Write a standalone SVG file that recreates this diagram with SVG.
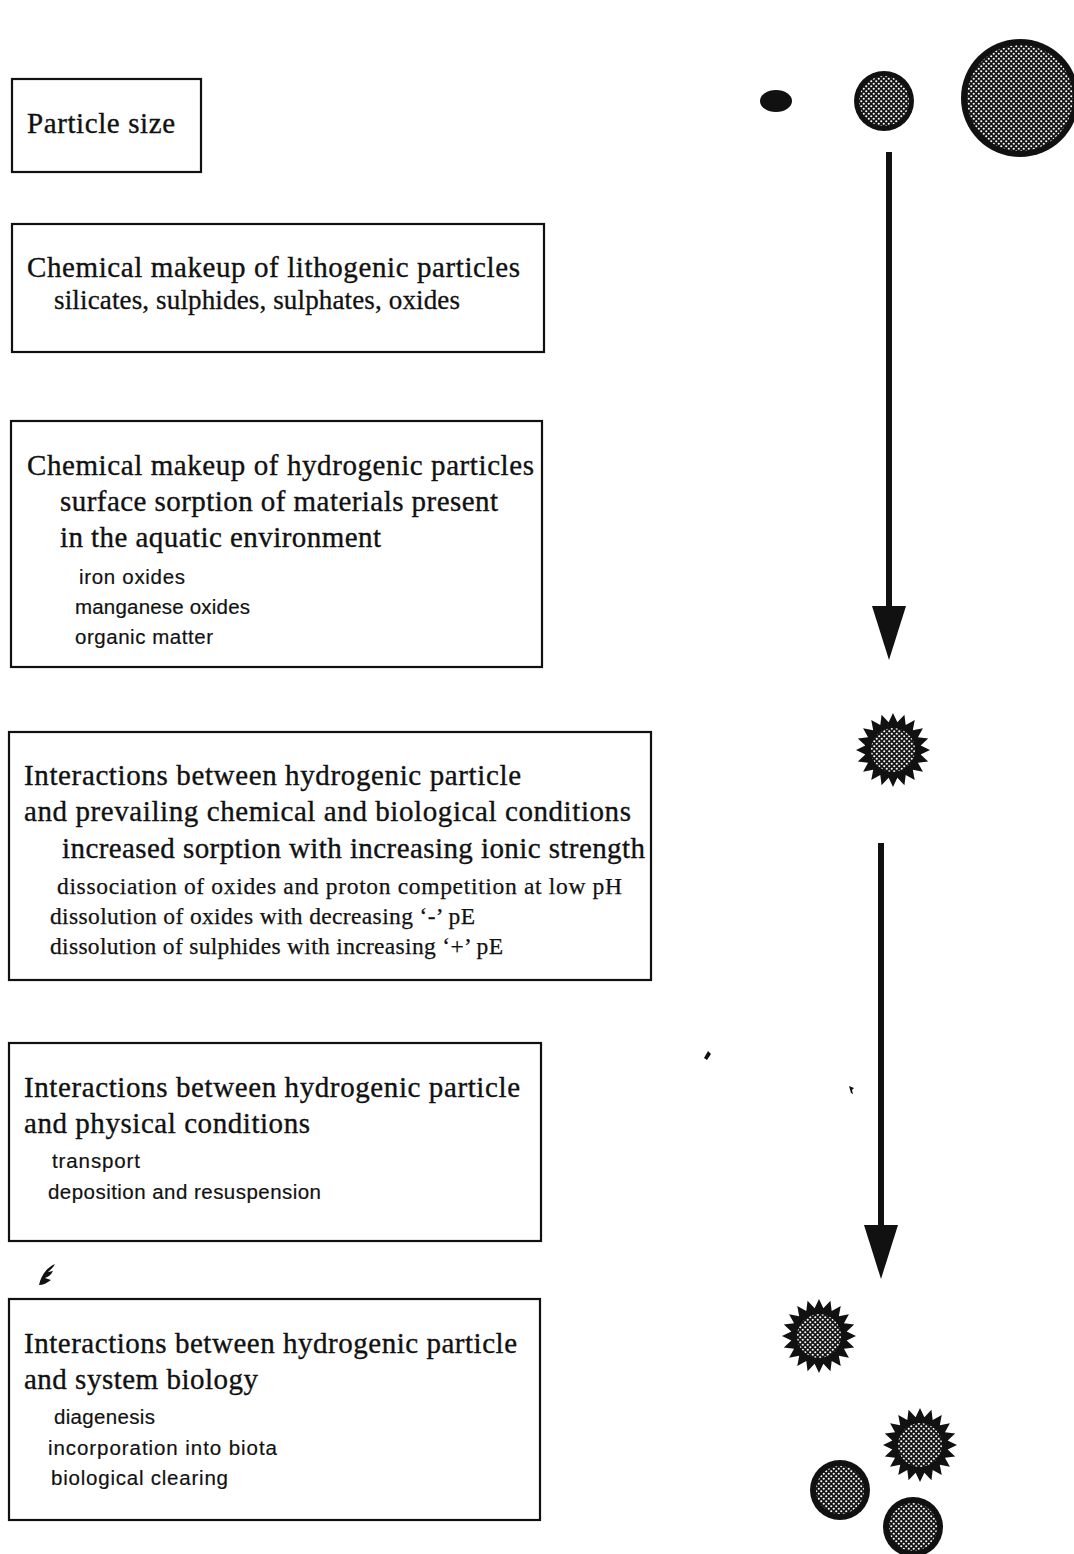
<svg xmlns="http://www.w3.org/2000/svg" width="1074" height="1554" viewBox="0 0 1074 1554">
  <style>
    .box { fill: #fff; stroke: #111; stroke-width: 2.2; }
    .h { font-family: "Liberation Serif", "Times New Roman", serif; font-size: 29px; fill: #111; stroke: #111; stroke-width: 0.35; }
    .m { font-family: "Liberation Serif", "Times New Roman", serif; font-size: 27px; fill: #111; stroke: #111; stroke-width: 0.3; }
    .s { font-family: "Liberation Serif", "Times New Roman", serif; font-size: 23.5px; fill: #111; stroke: #111; stroke-width: 0.25; }
    .ss { font-family: "Liberation Sans", Arial, sans-serif; font-size: 20.5px; fill: #111; stroke: #111; stroke-width: 0.2; }
    .shaft { stroke: #111; stroke-width: 6; fill: none; }
    .ink { fill: #111; }
  </style>
  <defs>
    <!-- halftone screen used inside the particles -->
    <pattern id="dots" width="5" height="5" patternUnits="userSpaceOnUse">
      <rect width="5" height="5" fill="#151515"/>
      <circle cx="1.25" cy="1.25" r="1.05" fill="#fff"/>
      <circle cx="3.75" cy="3.75" r="1.05" fill="#fff"/>
    </pattern>
    <marker id="head" viewBox="0 0 54 34" markerWidth="54" markerHeight="34" refX="1" refY="17" orient="auto" markerUnits="userSpaceOnUse">
      <path d="M0,0 L54,17 L0,34 Z" fill="#111"/>
    </marker>
    <!-- 20-point star outline for coated (hydrogenic) particles -->
    <polygon id="star" points="37,0 27.66,4.38 35.19,11.43 24.95,12.71 29.93,21.75 19.8,19.8 21.75,29.93 12.71,24.95 11.43,35.19 4.38,27.66 0,37 -4.38,27.66 -11.43,35.19 -12.71,24.95 -21.75,29.93 -19.8,19.8 -29.93,21.75 -24.95,12.71 -35.19,11.43 -27.66,4.38 -37,0 -27.66,-4.38 -35.19,-11.43 -24.95,-12.71 -29.93,-21.75 -19.8,-19.8 -21.75,-29.93 -12.71,-24.95 -11.43,-35.19 -4.38,-27.66 0,-37 4.38,-27.66 11.43,-35.19 12.71,-24.95 21.75,-29.93 19.8,-19.8 29.93,-21.75 24.95,-12.71 35.19,-11.43 27.66,-4.38"/>
    <g id="starParticle">
      <use href="#star" class="ink"/>
      <circle r="22" fill="url(#dots)"/>
    </g>
  </defs>

  <rect width="1074" height="1554" fill="#fff"/>

  <!-- text boxes -->
  <g id="particle-size">
    <rect class="box" x="12" y="79" width="189" height="93"/>
    <text class="h" x="27" y="133" textLength="148" lengthAdjust="spacing">Particle size</text>
  </g>

  <g id="lithogenic">
    <rect class="box" x="12" y="224" width="532" height="128"/>
    <text class="h" x="27" y="277" textLength="493" lengthAdjust="spacing">Chemical makeup of lithogenic particles</text>
    <text class="m" x="54" y="309" textLength="406" lengthAdjust="spacing">silicates, sulphides, sulphates, oxides</text>
  </g>

  <g id="hydrogenic">
    <rect class="box" x="11" y="421" width="531" height="246"/>
    <text class="h" x="27" y="475" textLength="507" lengthAdjust="spacing">Chemical makeup of hydrogenic particles</text>
    <text class="h" x="60" y="511" textLength="438" lengthAdjust="spacing">surface sorption of materials present</text>
    <text class="h" x="60" y="547" textLength="321" lengthAdjust="spacing">in the aquatic environment</text>
    <text class="ss" x="79" y="584" textLength="106" lengthAdjust="spacing">iron oxides</text>
    <text class="ss" x="75" y="614" textLength="175" lengthAdjust="spacing">manganese oxides</text>
    <text class="ss" x="75" y="644" textLength="138" lengthAdjust="spacing">organic matter</text>
  </g>

  <g id="chem-bio-conditions">
    <rect class="box" x="9" y="732" width="642" height="248"/>
    <text class="h" x="24" y="785" textLength="497" lengthAdjust="spacing">Interactions between hydrogenic particle</text>
    <text class="h" x="24" y="821" textLength="607" lengthAdjust="spacing">and prevailing chemical and biological conditions</text>
    <text class="h" x="62" y="858" textLength="583" lengthAdjust="spacing">increased sorption with increasing ionic strength</text>
    <text class="s" x="57" y="894" textLength="565" lengthAdjust="spacing">dissociation of oxides and proton competition at low pH</text>
    <text class="s" x="50" y="924" textLength="425" lengthAdjust="spacing">dissolution of oxides with decreasing ‘-’ pE</text>
    <text class="s" x="50" y="954" textLength="453" lengthAdjust="spacing">dissolution of sulphides with increasing ‘+’ pE</text>
  </g>

  <g id="physical-conditions">
    <rect class="box" x="9" y="1043" width="532" height="198"/>
    <text class="h" x="24" y="1097" textLength="496" lengthAdjust="spacing">Interactions between hydrogenic particle</text>
    <text class="h" x="24" y="1133" textLength="286" lengthAdjust="spacing">and physical conditions</text>
    <text class="ss" x="52" y="1168" textLength="88" lengthAdjust="spacing">transport</text>
    <text class="ss" x="48" y="1199" textLength="273" lengthAdjust="spacing">deposition and resuspension</text>
  </g>

  <g id="system-biology">
    <rect class="box" x="9" y="1299" width="531" height="221"/>
    <text class="h" x="24" y="1353" textLength="493" lengthAdjust="spacing">Interactions between hydrogenic particle</text>
    <text class="h" x="24" y="1389" textLength="234" lengthAdjust="spacing">and system biology</text>
    <text class="ss" x="54" y="1424" textLength="101" lengthAdjust="spacing">diagenesis</text>
    <text class="ss" x="48" y="1455" textLength="229" lengthAdjust="spacing">incorporation into biota</text>
    <text class="ss" x="51" y="1485" textLength="177" lengthAdjust="spacing">biological clearing</text>
  </g>

  <!-- particles growing in size -->
  <g id="particles-size">
    <ellipse class="ink" cx="776" cy="101" rx="16" ry="11"/>
    <circle class="ink" cx="884" cy="101" r="30"/>
    <circle cx="884" cy="101" r="25" fill="url(#dots)"/>
    <circle class="ink" cx="1020" cy="98" r="59"/>
    <circle cx="1020" cy="98" r="53" fill="url(#dots)"/>
  </g>

  <!-- coated particle -->
  <g id="particle-coated">
    <use href="#starParticle" x="893" y="750"/>
  </g>

  <!-- particles after biological processing -->
  <g id="particles-biology">
    <use href="#starParticle" x="819" y="1336"/>
    <use href="#starParticle" x="920" y="1445"/>
    <circle class="ink" cx="840" cy="1490" r="30"/>
    <circle cx="840" cy="1490" r="24" fill="url(#dots)"/>
    <circle class="ink" cx="913" cy="1527" r="30"/>
    <circle cx="913" cy="1527" r="24" fill="url(#dots)"/>
  </g>

  <!-- connectors -->
  <g id="connectors">
    <line class="shaft" x1="889" y1="152" x2="889" y2="607" marker-end="url(#head)"/>
    <line class="shaft" x1="881" y1="843" x2="881" y2="1226" marker-end="url(#head)"/>
  </g>

  <!-- stray ink marks -->
  <g id="marks" class="ink">
    <path d="M39,1285 C41,1276 46,1268 55,1264 C53,1268 50,1270 48,1272 L53,1271 C51,1275 48,1277 45,1278 L51,1280 C47,1283 43,1285 39,1285 Z"/>
    <path d="M704,1058 L708,1051 L711,1054 L707,1060 Z"/>
    <path d="M849,1086 L854,1088 L852,1090 L853,1094 L851,1093 Z"/>
  </g>
</svg>
